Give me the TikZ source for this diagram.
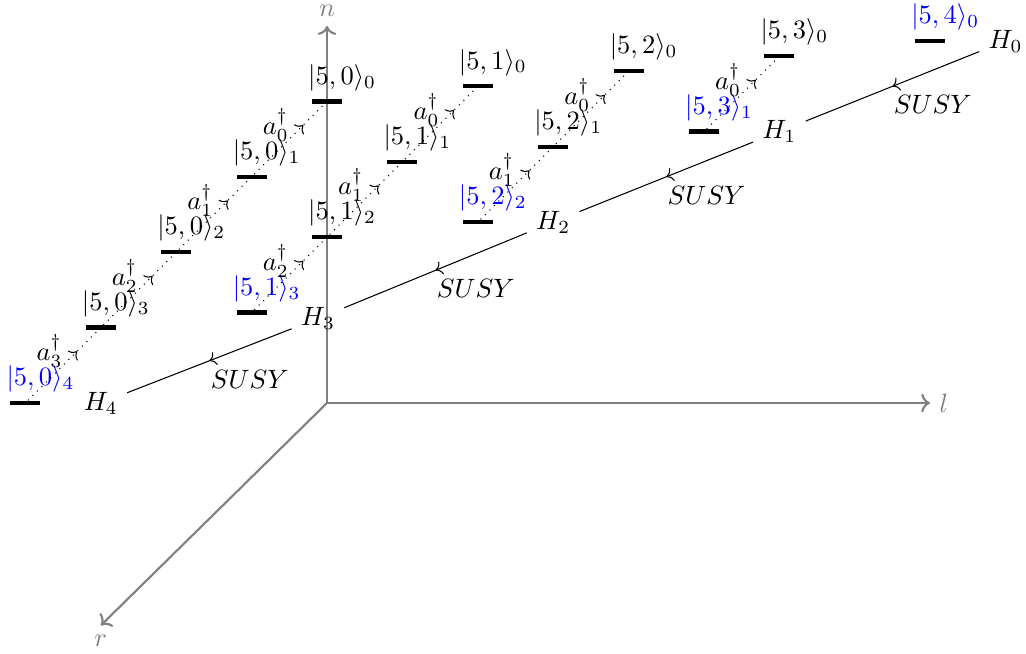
\documentclass[tikz,border=0pt]{standalone}
\usepackage{amsmath,amssymb}
\usepackage{xcolor}
\usepackage{tikz}
\usetikzlibrary{arrows.meta,positioning,decorations.markings}
\tikzstyle{axis}=[->, thick, draw=gray]
\tikzstyle{ladder}=[dotted, postaction={decorate},
  decoration={markings, mark=at position 0.7 with {\arrow{>}}}]
\tikzstyle{susy}=[postaction={decorate},
  decoration={markings, mark=at position 0.5 with {\arrow{>}}}]
\begin{document}
\begin{tikzpicture}[
  bar/.style={rectangle,fill=black,minimum width=0.4cm,minimum height=1.6pt,inner sep=0pt},
  lvltext/.style={xshift=0.2cm,yshift=-0.5pt},
  axlab/.style={text=gray}]
\useasboundingbox (-4.337,-3.329) rectangle (9.271,5.345);

% axes
\coordinate (O) at (0,0);
\coordinate (nend) at (0,5.0);
\coordinate (lend) at (8,0);
\coordinate (rend) at (-3,-2.95);
\draw[axis] (O) -- (nend);
\draw[axis] (O) -- (lend);
\draw[axis] (O) -- (rend);
\node[axlab,above=0pt of nend] (n) {$n$};
\node[axlab,right=0pt of lend] (l) {$l$};
\node[axlab,below=0pt of rend] (r) {$r$};

% levels |5,l>_k
\foreach \lv/\kmax in {0/4,1/3,2/2,3/1,4/0} {
  \foreach \kv in {0,...,\kmax} {
    \ifnum\kv=\kmax\def\col{blue}\else\def\col{black}\fi
    \node[bar] (L\lv\kv) at ({2*\lv-\kv},{4+0.2*\lv-\kv}) {};
    \node[lvltext,text=\col,above=0pt of L\lv\kv] (T\lv\kv) {$|5,\lv\rangle_{\kv}$};
  }
}
% ladder operators
\foreach \lv/\kmax in {0/4,1/3,2/2,3/1} {
  \foreach \kv in {1,...,\kmax} {
    \pgfmathtruncatemacro{\j}{\kv-1}
    \draw[ladder] (L\lv\kv) -- (L\lv\j) node[pos=0.7,left,xshift=-2pt] (A\lv\kv) {$a_{\j}^\dagger$};
  }
}
% hamiltonians
\foreach \i/\x/\y in {0/9/4.8, 1/6/3.6, 2/3/2.4, 3/-0.12/1.12, 4/-3/0}
  \node (H\i) at (\x,\y) {$H_{\i}$};
\foreach \i/\j in {0/1,1/2,2/3,3/4}
  \draw[susy] (H\i) -- (H\j) node[midway,below right,xshift=-3pt] (S\i) {$SUSY$};
\end{tikzpicture}
\end{document}
